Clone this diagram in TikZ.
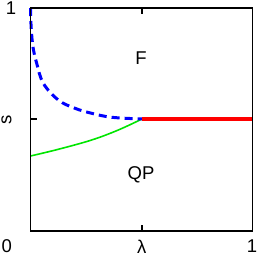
\documentclass[tikz,border=0pt]{standalone}
\usepackage{fontspec}
\setmainfont{Liberation Sans}
\begin{document}
\begin{tikzpicture}[x=1pt,y=-1pt,
  lbl/.style={inner sep=0pt,font=\fontsize{18.5}{20}\selectfont},
  frame/.style={line width=1.1pt,black},
  tickmark/.style={line width=1.1pt,black},
  fline/.style={blue,line width=3pt,dash pattern=on 8pt off 5pt},
  qline/.style={green!90!black,line width=1.6pt},
  rline/.style={red,line width=3.8pt}]
\useasboundingbox (0,0) rectangle (257,256);
\coordinate (bl) at (30.5,231);
\coordinate (tr) at (252.5,8);
\coordinate (tl) at (30.5,8);
\coordinate (br) at (252.5,231);
\coordinate (c) at (142,119);
\coordinate (r) at (252.5,119);
% ticks
\draw[tickmark] (142,231) -- (142,225);
\draw[tickmark] (142,8) -- (142,14);
\draw[tickmark] (30.5,119) -- (36.5,119);
% curves
\draw[qline] plot[smooth,tension=0.6] coordinates {(30.5,156) (58.3,149.3) (91.7,140) (118.3,130) (142,119)};
\draw[fline] plot[smooth,tension=0.6] coordinates {(30.5,8) (31.2,28) (33,47) (36.7,63.3) (43.3,83.3) (58.3,100) (75,108.3) (91.7,113.3) (111.7,117.3) (142,119)};
\draw[rline] (c) -- (r);
\draw[frame] (bl) rectangle (tr);
% labels
\node[lbl] (one) at (11,8.5) {1};
\node[lbl,rotate=90] (s) at (6.5,120) {s};
\node[lbl] (zero) at (6.7,246) {0};
\node[lbl] (lam) at (141.7,246.5) {λ};
\node[lbl] (oner) at (252,246) {1};
\node[lbl] (F) at (141,58.5) {F};
\node[lbl] (QP) at (141,175) {QP};
\end{tikzpicture}
\end{document}
